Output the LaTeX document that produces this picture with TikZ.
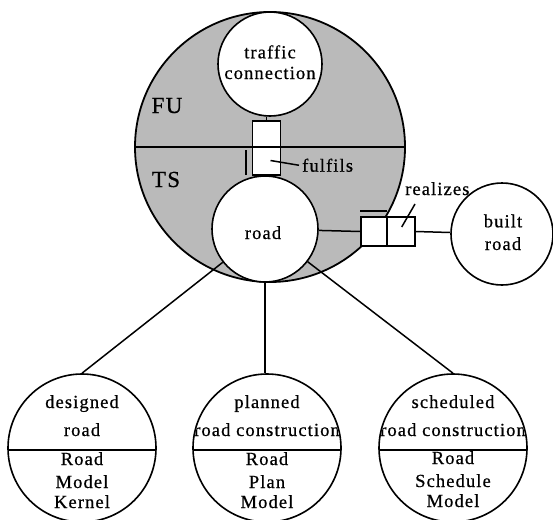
\documentclass[tikz,border=0pt]{standalone}
\usepackage{fontspec}
\setmainfont{Liberation Serif}[LetterSpace=6,FakeBold=0.6]
\begin{document}
\begin{tikzpicture}[x=1pt,y=-1pt,
  thing/.style={circle, draw, line width=1.6pt, fill=white, inner sep=0pt},
  lbl/.style={font=\fontsize{18.5}{20}\selectfont, inner sep=0pt, anchor=base},
  biglbl/.style={font=\fontsize{23}{26}\selectfont, inner sep=0pt, anchor=base},
  boxy/.style={draw, line width=1.4pt, fill=white, inner sep=0pt},
  conn/.style={line width=1.5pt}]
\useasboundingbox (0,0) rectangle (553,519);
% big circle FU/TS
\node[circle, draw, line width=1.8pt, fill=black!27, minimum size=270pt, inner sep=0pt] (big) at (270,147) {};
\draw[conn] (big.west) -- (big.east);
\node[biglbl] (fu) at (167,113) {FU};
\node[biglbl] (ts) at (166,187) {TS};
% inner circles
\node[thing, minimum size=104pt] (tc) at (270,64) {};
\node[lbl] (tc1) at (270,58.3) {traffic};
\node[lbl] (tc2) at (270,79) {connection};
\node[thing, minimum size=106pt] (road) at (265,229) {};
\node[lbl] (roadt) at (263,239) {road};
% fulfils boxes
\node[boxy, minimum width=28pt, minimum height=26pt] (fu1) at (266.7,134) {};
\node[boxy, minimum width=28pt, minimum height=28pt] (fu2) at (266.7,161) {};
\draw[line width=2pt] (246,150) -- (246,175);
\draw[conn] (fu1.north) -- (fu1.north |- tc.south);
\draw[conn] (fu2.south) -- (fu2.south |- road.north);
\node[lbl, anchor=base west] (ful) at (302,171.7) {fulfils};
\coordinate (fp1) at (270.5,160.5);
\draw[conn] (fp1) -- ([xshift=-3pt]ful.west);
% built road
\node[thing, minimum size=102pt] (built) at (502,234) {};
\node[lbl] (b1) at (503,227.3) {built};
\node[lbl] (b2) at (503,250) {road};
% realizes boxes
\node[boxy, minimum width=26pt, minimum height=29pt] (rb1) at (374,231.5) {};
\node[boxy, minimum width=28pt, minimum height=29pt] (rb2) at (401,231.5) {};
\draw[line width=1.8pt] (360,211) -- (387,211);
\draw[conn] (rb1.west) -- (road);
\draw[conn] (rb2.east) -- (built);
\node[lbl, anchor=base west] (real) at (405,195) {realizes};
\coordinate (rp1) at (401.7,227);
\coordinate (rp2) at (415,204);
\draw[conn] (rp1) -- (rp2);
% bottom circles
\node[thing, minimum size=148pt] (d1) at (82,448) {};
\node[thing, minimum size=148pt] (d2) at (267,448) {};
\node[thing, minimum size=148pt] (d3) at (453,448) {};
\draw[conn] (8,450) -- (156,450);
\draw[conn] (193,450) -- (341,450);
\draw[conn] (379,450) -- (527,450);
\begin{scope}
\clip (d1.center) circle (73pt);
\node[lbl] (d1a) at (82,408) {designed};
\node[lbl] (d1b) at (82,436) {road};
\node[lbl] (d1c) at (82,465) {Road};
\node[lbl] (d1d) at (82,488) {Model};
\node[lbl] (d1e) at (82,508) {Kernel};
\end{scope}
\begin{scope}
\clip (d2.center) circle (73pt);
\node[lbl] (d2a) at (267,408) {planned};
\node[lbl] (d2b) at (267,436) {road construction};
\node[lbl] (d2c) at (267,465) {Road};
\node[lbl] (d2d) at (267,488) {Plan};
\node[lbl] (d2e) at (267,508) {Model};
\end{scope}
\begin{scope}
\clip (d3.center) circle (73pt);
\node[lbl] (d3a) at (453,408) {scheduled};
\node[lbl] (d3b) at (453,436) {road construction};
\node[lbl] (d3c) at (453,464) {Road};
\node[lbl] (d3d) at (453,487) {Schedule};
\node[lbl] (d3e) at (453,507) {Model};
\end{scope}
% connectors
\draw[conn] (road) -- (d1.north);
\draw[conn] (road.south) -- (road.south |- d2.north);
\draw[conn] (road) -- (d3.north);
\end{tikzpicture}
\end{document}
